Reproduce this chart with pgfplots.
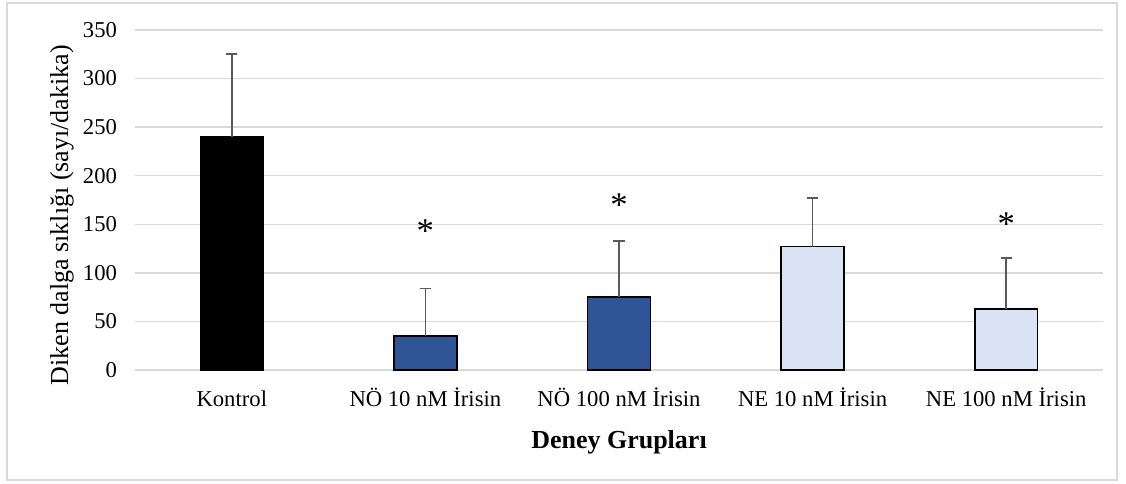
\documentclass[border=0pt]{standalone}
\usepackage{pgfplots}
\pgfplotsset{compat=1.18}
\usepackage{fontspec}
\setmainfont{Liberation Serif}

\definecolor{gridgray}{HTML}{D9D9D9}
\definecolor{errgray}{HTML}{595959}
\definecolor{darkblue}{HTML}{2F5597}
\definecolor{lightblue}{HTML}{DAE3F3}
\definecolor{framegray}{HTML}{D9D9D9}

\begin{document}
\begin{tikzpicture}
\begin{axis}[
  name=ax,
  scale only axis,
  width=726pt, height=255pt,
  xmin=-0.5, xmax=4.5,
  ymin=0, ymax=350,
  ytick={0,50,...,350},
  xtick={0,1,2,3,4},
  xticklabels={Kontrol, NÖ 10 nM İrisin, NÖ 100 nM İrisin, NE 10 nM İrisin, NE 100 nM İrisin},
  major tick length=0pt,
  axis line style={draw=none},
  ymajorgrids,
  grid style={gridgray, line width=1pt},
  /pgf/number format/assume math mode=true,
  tick label style={font=\fontsize{17}{20}\selectfont},
  yticklabel style={xshift=-10pt},
  xticklabel style={anchor=base, yshift=-27.5pt},
  xlabel={\textbf{Deney Grupları}},
  xlabel style={at={(axis description cs:0.5,0)}, anchor=base, yshift=-58.5pt},
  ylabel={Diken dalga sıklığı (sayı/dakika)},
  ylabel style={at={(ticklabel cs:0.455)}},
  label style={font=\fontsize{19.5}{23}\selectfont},
  clip=false,
]
% Kontrol
\addplot[ybar, bar shift=0pt, bar width=47pt, fill=black, draw=black, line width=0.8pt,
  error bars/.cd, y dir=plus, y explicit,
  error bar style={errgray, line width=1.3pt},
  error mark options={rotate=90, errgray, mark size=4.2pt, line width=1.3pt}]
  coordinates {(0,240) +- (0,85)};
% NÖ groups
\addplot[ybar, bar shift=0pt, bar width=47pt, fill=darkblue, draw=black, line width=1.2pt,
  error bars/.cd, y dir=plus, y explicit,
  error bar style={errgray, line width=1.3pt},
  error mark options={rotate=90, errgray, mark size=4.2pt, line width=1.3pt}]
  coordinates {(1,35) +- (0,49) (2,75) +- (0,58)};
% NE groups
\addplot[ybar, bar shift=0pt, bar width=47pt, fill=lightblue, draw=black, line width=1.2pt,
  error bars/.cd, y dir=plus, y explicit,
  error bar style={errgray, line width=1.3pt},
  error mark options={rotate=90, errgray, mark size=4.2pt, line width=1.3pt}]
  coordinates {(3,127) +- (0,50) (4,63) +- (0,52)};
% significance marks
\node[font=\fontsize{26}{28}\selectfont] at (axis cs:1,143) {*};
\node[font=\fontsize{26}{28}\selectfont] at (axis cs:2,170) {*};
\node[font=\fontsize{26}{28}\selectfont] at (axis cs:4,150) {*};
\end{axis}
\draw[framegray, line width=0.8pt] ([xshift=-96pt,yshift=-82.5pt]ax.south west) rectangle ([xshift=10.5pt,yshift=20.25pt]ax.north east);
\path[use as bounding box] ([xshift=-101.25pt,yshift=-85.5pt]ax.south west) rectangle ([xshift=17.25pt,yshift=22.5pt]ax.north east);
\end{tikzpicture}
\end{document}
